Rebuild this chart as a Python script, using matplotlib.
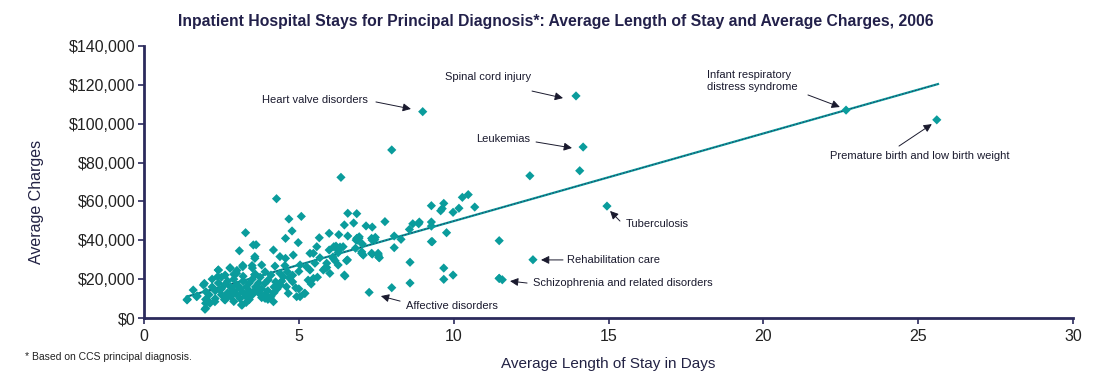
import matplotlib
matplotlib.use('Agg')
import matplotlib.pyplot as plt

plt.rcParams['font.family'] = ['Liberation Sans', 'DejaVu Sans']

# average length of stay (days) and average charges ($) per diagnosis
stay_days = [
    9.0, 13.95, 14.18, 12.46, 14.07, 14.95, 22.67, 25.6, 8.0, 6.36,
    4.28, 4.68, 5.08, 3.28, 4.78, 4.57, 5.66, 5.98, 6.29, 6.58,
    6.58, 6.87, 6.47, 6.77, 6.87, 10.47, 10.28, 9.28, 9.68, 9.63,
    9.58, 9.98, 10.17, 10.68, 7.17, 7.37, 7.78, 8.68, 8.89, 8.87,
    9.28, 9.28, 8.57, 9.77, 8.08, 8.30, 7.47, 7.37, 6.95, 6.90,
    7.05, 6.83, 7.03, 7.37, 7.56, 7.58, 8.08, 9.28, 11.47, 8.59,
    9.68, 9.98, 9.68, 8.59, 8.0, 7.27, 11.47, 11.57, 12.56, 11.47,
    1.39, 1.59, 1.70, 1.95, 1.99, 1.99, 1.97, 2.10, 2.29, 2.40,
    2.38, 2.62, 2.78, 2.99, 3.08, 3.19, 3.53, 3.49, 3.15, 2.62,
    2.85, 3.62, 4.98, 6.20, 6.33, 6.85, 5.98, 4.18, 3.58, 4.39,
    4.82, 5.36, 5.68, 6.10, 6.17, 6.54, 6.27, 5.90, 5.52, 5.04,
    4.55, 4.23, 3.80, 3.50, 3.57, 3.91, 4.10, 4.39, 4.50, 4.63,
    4.80, 5.00, 5.25, 5.36, 5.84, 6.47, 4.01, 3.90, 4.25, 4.20,
    4.40, 4.60, 4.80, 3.55, 3.70, 3.40, 3.91, 4.18, 4.66, 4.93,
    5.04, 5.18, 6.89, 6.49, 6.57, 6.27, 6.11, 5.58, 5.47, 4.57,
    2.78, 2.40, 3.19, 3.58, 3.17, 1.99, 1.40, 1.72, 1.92, 2.13,
    6.43, 6.13, 6.28, 6.94, 7.35, 7.45, 7.03, 7.08, 7.35, 7.57,
    7.60, 5.47, 5.79, 5.20, 5.00, 9.31, 2.20, 2.30, 2.40, 2.50,
    2.50, 2.60, 2.70, 2.70, 2.80, 2.80, 2.90, 2.90, 3.00, 3.00,
    3.10, 3.10, 3.20, 3.20, 3.30, 3.30, 3.40, 3.40, 3.50, 3.50,
    3.60, 3.70, 3.70, 3.80, 3.90, 4.00, 4.10, 4.20, 4.30, 2.10,
    2.30, 2.60, 2.90, 3.30, 2.00, 2.20, 2.50, 2.90, 3.20, 3.60,
    3.00, 2.70, 3.40, 3.80, 3.85, 4.00, 5.30, 5.60, 4.90, 4.70,
    5.40, 5.90, 6.00, 2.45, 3.05, 3.75, 4.45,
]
avg_charges = [
    106200, 114300, 88000, 73200, 75800, 57600, 107000, 102000, 86500, 72400,
    61400, 50950, 52300, 43900, 44800, 41000, 41300, 43600, 42900, 42200,
    53900, 53700, 47900, 48900, 41000, 63500, 62100, 57800, 59000, 56300,
    55200, 54400, 56500, 57100, 47400, 46800, 49600, 48500, 49400, 48500,
    49400, 47300, 45600, 43900, 42200, 40500, 41500, 40100, 41800, 40100,
    38100, 35900, 33300, 32900, 33300, 31300, 36200, 39300, 39800, 28700,
    25700, 22100, 19900, 18000, 15600, 13200, 20400, 19700, 30000, 20400,
    9300, 14400, 11000, 17800, 9600, 7600, 4500, 8400, 8400, 24700,
    21300, 22100, 25900, 23000, 34600, 27100, 37600, 27000, 6700, 9300,
    13500, 37700, 38800, 37000, 36500, 40100, 35000, 35000, 31600, 31600,
    32400, 33300, 31000, 31400, 29500, 29500, 27300, 28200, 28200, 27300,
    27000, 26700, 27300, 25700, 22300, 23800, 22100, 23000, 21300, 23800,
    22000, 24000, 26400, 24700, 25600, 22100, 19600, 17800, 18600, 16000,
    17000, 16100, 18600, 13800, 15400, 12000, 10100, 8400, 12700, 11000,
    11000, 12700, 41000, 21600, 29900, 33600, 30700, 36700, 33300, 30700,
    25600, 24700, 26400, 30700, 6700, 5000, 9600, 11300, 17000, 7600,
    36700, 36700, 34600, 41000, 41000, 40300, 34100, 32400, 33300, 32400,
    31000, 20400, 24700, 12700, 15000, 39300, 16000, 14000, 18000, 15000,
    12000, 17000, 13000, 19000, 16000, 11000, 14000, 20000, 12000, 17000,
    15000, 10000, 13000, 19000, 16000, 11000, 14000, 18000, 12000, 20000,
    16000, 13000, 18000, 15000, 12000, 14000, 11000, 13000, 15000, 12000,
    10000, 9500, 8500, 8000, 13500, 20000, 21000, 22500, 21500, 22500,
    24500, 11500, 9500, 10500, 11000, 9600, 19500, 21000, 15500, 20500,
    17500, 26000, 23000, 14500, 16500, 21000, 19000,
]

# fitted trend line
trend_slope = 4510
trend_intercept = 4780
trend_days = [1.38, 25.64]
trend_charges = [trend_intercept + trend_slope * d for d in trend_days]

# labelled diagnoses: text, text position, arrow start, arrow tip
labels = ['Heart valve disorders', 'Spinal cord injury', 'Leukemias',
          'Infant respiratory\ndistress syndrome',
          'Premature birth and low birth weight', 'Tuberculosis',
          'Rehabilitation care', 'Schizophrenia and related disorders',
          'Affective disorders']
label_xy = [(3.81, 112200), (9.72, 124200), (10.72, 92100), (18.18, 122000),
            (22.15, 83400), (15.56, 48400), (13.66, 29900), (12.56, 18000),
            (8.46, 6200)]
arrow_from = [(7.49, 111200), (12.53, 116800), (12.66, 90600), (21.44, 114800),
              (24.38, 88500), (15.37, 49900), (13.53, 29900), (12.37, 18000),
              (8.27, 8700)]
arrow_to = [(8.62, 107600), (13.53, 113200), (13.82, 87500), (22.47, 108600),
            (25.44, 99800), (15.05, 55100), (12.82, 29900), (11.82, 19000),
            (7.65, 11300)]

navy = '#2b2a5c'
teal = '#0a9c9c'

fig = plt.figure(figsize=(11, 3.82), dpi=100)
ax = fig.add_axes([0.1309, 0.1675, 0.8446, 0.7121])

ax.scatter(stay_days, avg_charges, marker='D', s=22, color=teal,
           edgecolors='none', zorder=3)
ax.plot(trend_days, trend_charges, color=teal, lw=1.6, zorder=2)
ax.plot(trend_days, trend_charges, color=navy, lw=0.6, ls=(0, (2, 2)), zorder=2)

for txt, xy, a0, a1 in zip(labels, label_xy, arrow_from, arrow_to):
    ax.text(xy[0], xy[1], txt, fontsize=8, color='#1a1a2e', va='center',
            ha='left', linespacing=1.3)
    ax.annotate('', xy=a1, xytext=a0,
                arrowprops=dict(arrowstyle='-|>', color='#1a1a2e', lw=0.7,
                                mutation_scale=12, shrinkA=0, shrinkB=0))

ax.set_xlim(0, 30)
ax.set_ylim(0, 140000)
ax.set_xticks([0, 5, 10, 15, 20, 25, 30])
ax.set_yticks(range(0, 140001, 20000))
ax.set_yticklabels(['${:,}'.format(v) for v in range(0, 140001, 20000)])

for side in ['top', 'right']:
    ax.spines[side].set_visible(False)
for side in ['left', 'bottom']:
    ax.spines[side].set_color(navy)
    ax.spines[side].set_linewidth(2)
ax.tick_params(axis='both', colors=navy, labelcolor='#222222', labelsize=11.5,
               length=4, width=1.2)
ax.tick_params(axis='y', pad=2)
ax.tick_params(axis='x', pad=4)

ax.set_xlabel('Average Length of Stay in Days', fontsize=11, color='#222244')
ax.set_ylabel('Average Charges', fontsize=11.5, color='#222244')
ax.xaxis.set_label_coords(0.4995, -0.143)
ax.yaxis.set_label_coords(-0.108, 0.426)

fig.text(0.505, 0.945, 'Inpatient Hospital Stays for Principal Diagnosis*: '
         'Average Length of Stay and Average Charges, 2006',
         ha='center', va='center', fontsize=11.3, fontweight='bold',
         color='#22204a')
fig.text(0.023, 0.065, '* Based on CCS principal diagnosis.', fontsize=7.5,
         color='#222222', va='center')

fig.savefig('out.png', dpi=100, facecolor='white')
